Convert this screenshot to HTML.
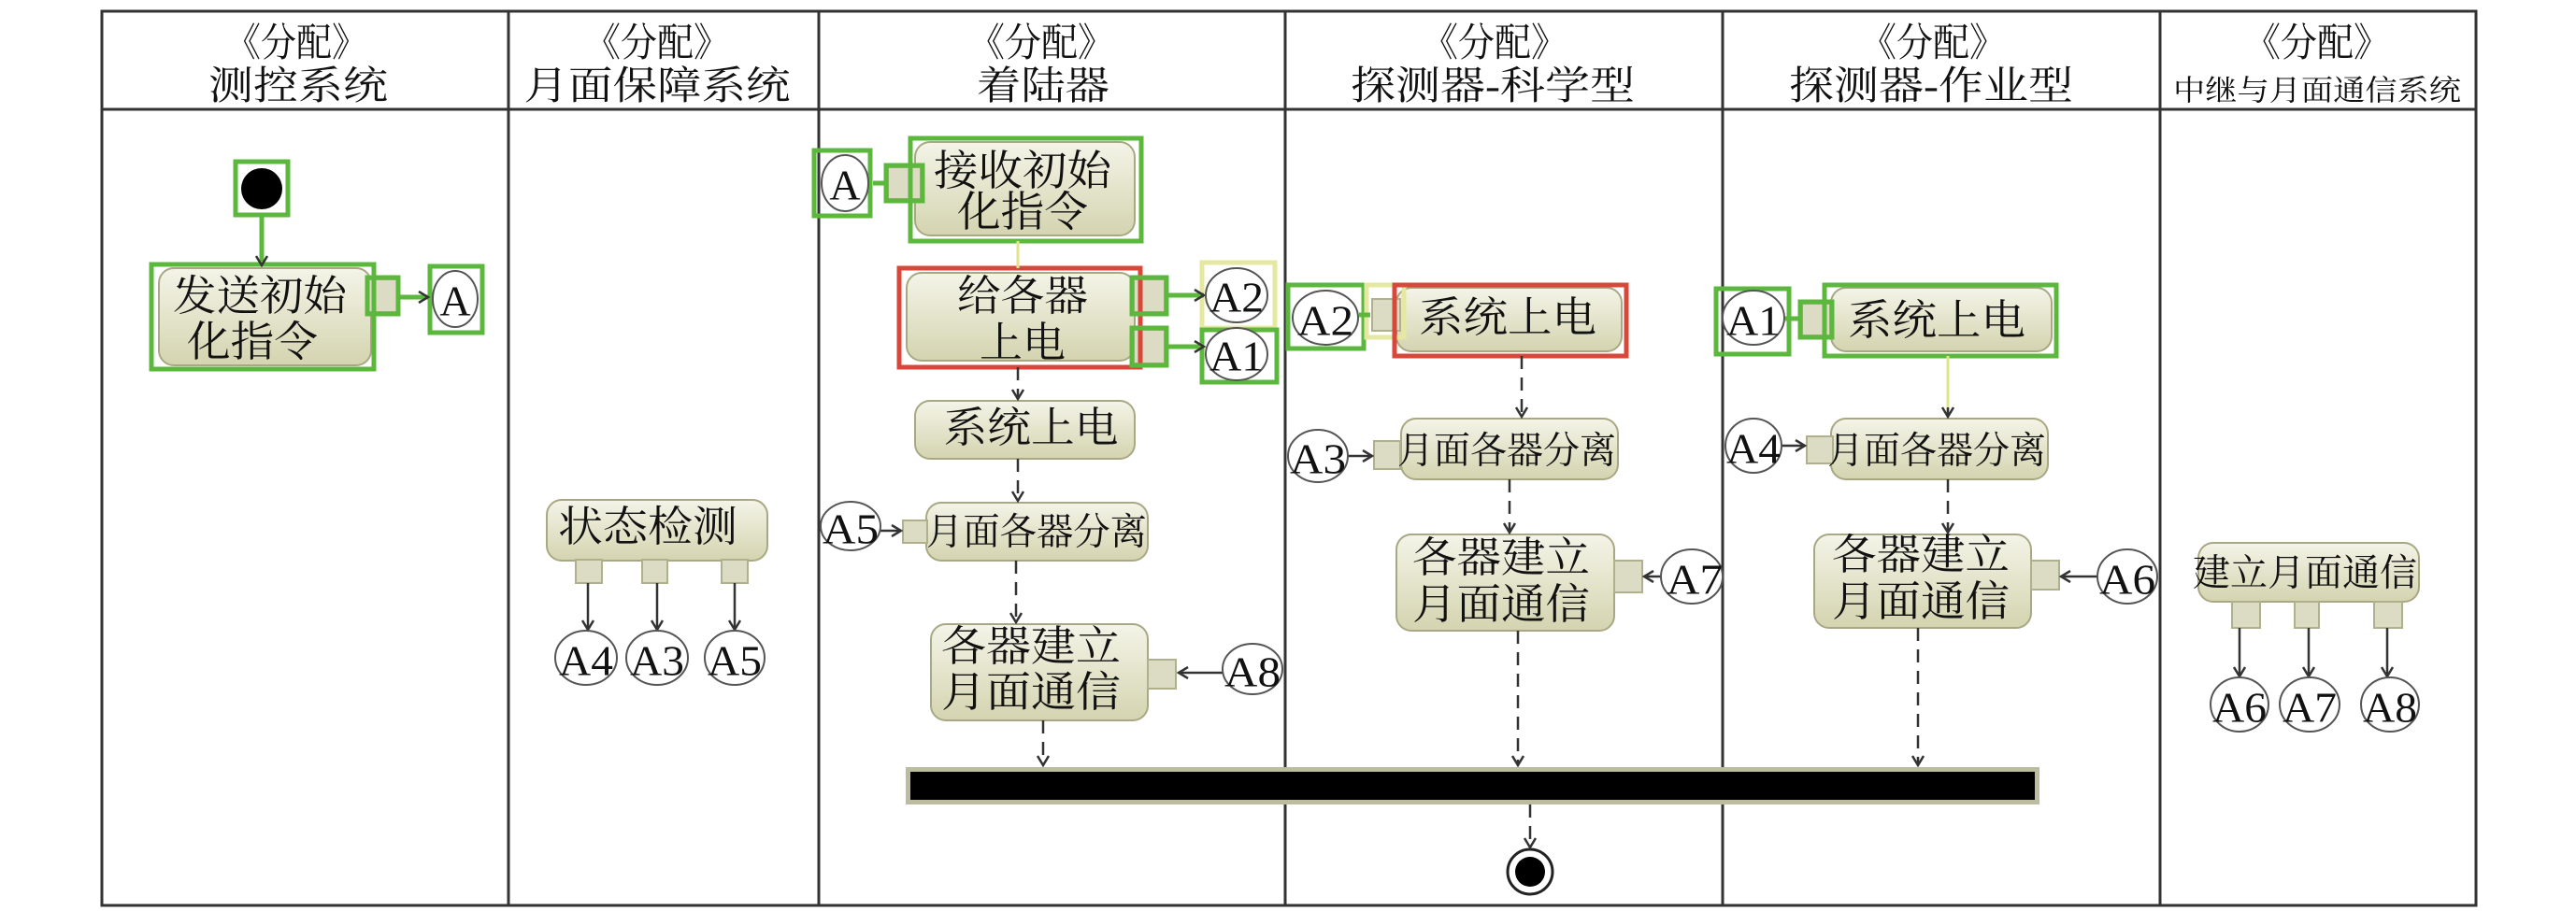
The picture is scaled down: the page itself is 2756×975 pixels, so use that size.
<!DOCTYPE html>
<html><head><meta charset="utf-8"><style>
html,body{margin:0;padding:0;background:#fff;width:2756px;height:975px;overflow:hidden}
svg{display:block}
text{font-family:"Liberation Serif","Noto Serif CJK SC","Noto Sans CJK SC",serif;fill:#111}
</style></head><body>
<svg width="2756" height="975" viewBox="0 0 2756 975" xmlns="http://www.w3.org/2000/svg">
<defs>
<linearGradient id="g" x1="0" y1="0" x2="0" y2="1">
<stop offset="0" stop-color="#f4f4e8"/><stop offset="1" stop-color="#d4d4b0"/>
</linearGradient>
<marker id="ah" markerWidth="14" markerHeight="14" refX="12" refY="7" orient="auto" markerUnits="userSpaceOnUse">
<path d="M2,1 L12,7 L2,13" fill="none" stroke="#333" stroke-width="2.5"/>
</marker>
<marker id="ahg" markerWidth="14" markerHeight="14" refX="12" refY="7" orient="auto" markerUnits="userSpaceOnUse">
<path d="M2,1 L12,7 L2,13" fill="none" stroke="#333" stroke-width="2.5"/>
</marker>
</defs>

<rect x="109" y="12" width="2540" height="957" fill="none" stroke="#333" stroke-width="3"/>
<line x1="109" y1="117" x2="2649" y2="117" stroke="#333" stroke-width="3"/>
<g stroke="#333" stroke-width="3">
<line x1="544" y1="12" x2="544" y2="969"/>
<line x1="876" y1="12" x2="876" y2="969"/>
<line x1="1375" y1="12" x2="1375" y2="969"/>
<line x1="1843" y1="12" x2="1843" y2="969"/>
<line x1="2311" y1="12" x2="2311" y2="969"/>
</g>

<g font-size="42" text-anchor="middle" dominant-baseline="central">
<text x="317" y="47" textLength="152" lengthAdjust="spacingAndGlyphs">《分配》</text>
<text x="319" y="93" textLength="192" lengthAdjust="spacingAndGlyphs">测控系统</text>
<text x="703" y="47" textLength="156" lengthAdjust="spacingAndGlyphs">《分配》</text>
<text x="703" y="93" textLength="285" lengthAdjust="spacingAndGlyphs">月面保障系统</text>
<text x="1114" y="47" textLength="156" lengthAdjust="spacingAndGlyphs">《分配》</text>
<text x="1116" y="93" textLength="142" lengthAdjust="spacingAndGlyphs">着陆器</text>
<text x="1599" y="47" textLength="156" lengthAdjust="spacingAndGlyphs">《分配》</text>
<text x="1597" y="93" textLength="304" lengthAdjust="spacingAndGlyphs">探测器-科学型</text>
<text x="2068" y="47" textLength="156" lengthAdjust="spacingAndGlyphs">《分配》</text>
<text x="2066" y="93" textLength="304" lengthAdjust="spacingAndGlyphs">探测器-作业型</text>
<text x="2479" y="47" textLength="156" lengthAdjust="spacingAndGlyphs">《分配》</text>
<text x="2479" y="97" font-size="31" textLength="308" lengthAdjust="spacingAndGlyphs">中继与月面通信系统</text>
</g>

<g fill="url(#g)" stroke="#a8a884" stroke-width="2">
<rect x="170" y="287" width="227" height="104" rx="16"/>
<rect x="979" y="152" width="235" height="100" rx="16"/>
<rect x="970" y="292" width="244" height="94" rx="16"/>
<rect x="979" y="429" width="235" height="62" rx="16"/>
<rect x="991" y="538" width="237" height="62" rx="16"/>
<rect x="996" y="668" width="232" height="103" rx="16"/>
<rect x="585" y="535" width="236" height="65" rx="16"/>
<rect x="1494" y="308" width="241" height="68" rx="16"/>
<rect x="1499" y="448" width="232" height="65" rx="16"/>
<rect x="1494" y="572" width="233" height="103" rx="16"/>
<rect x="1959" y="308" width="236" height="68" rx="16"/>
<rect x="1959" y="448" width="232" height="65" rx="16"/>
<rect x="1941" y="572" width="232" height="100" rx="16"/>
<rect x="2352" y="581" width="236" height="63" rx="16"/>
</g>

<g fill="#dcdcc4" stroke="#b0b08c" stroke-width="2">
<rect x="393" y="299" width="32" height="35"/>
<rect x="950" y="179" width="35" height="34"/>
<rect x="1213" y="299" width="33" height="35"/>
<rect x="1213" y="353" width="33" height="36"/>
<rect x="966" y="557" width="26" height="24"/>
<rect x="1228" y="706" width="30" height="31"/>
<rect x="616" y="599" width="28" height="25"/>
<rect x="687" y="599" width="27" height="25"/>
<rect x="772" y="599" width="28" height="25"/>
<rect x="1468" y="320" width="30" height="34"/>
<rect x="1470" y="472" width="28" height="30"/>
<rect x="1727" y="600" width="30" height="34"/>
<rect x="1928" y="325" width="30" height="34"/>
<rect x="1933" y="467" width="28" height="29"/>
<rect x="2173" y="600" width="30" height="31"/>
<rect x="2388" y="644" width="30" height="28"/>
<rect x="2455" y="644" width="26" height="28"/>
<rect x="2540" y="644" width="30" height="28"/>
</g>

<g fill="none" stroke-width="5">
<rect x="252" y="173" width="56" height="57" stroke="#5cb83c"/>
<rect x="162" y="283" width="238" height="112" stroke="#5cb83c"/>
<rect x="393" y="297" width="33" height="39" stroke="#5cb83c"/>
<rect x="460" y="285" width="56" height="71" stroke="#5cb83c"/>
<rect x="871" y="161" width="60" height="70" stroke="#5cb83c"/>
<rect x="948" y="177" width="39" height="38" stroke="#5cb83c"/>
<rect x="974" y="148" width="247" height="110" stroke="#5cb83c"/>
<rect x="962" y="287" width="258" height="106" stroke="#d8483a"/>
<rect x="1211" y="297" width="37" height="39" stroke="#5cb83c"/>
<rect x="1211" y="351" width="37" height="40" stroke="#5cb83c"/>
<rect x="1286" y="281" width="78" height="70" stroke="#e4e8a0"/>
<rect x="1286" y="353" width="80" height="56" stroke="#5cb83c"/>
<rect x="1378" y="305" width="81" height="68" stroke="#5cb83c"/>
<rect x="1462" y="305" width="40" height="56" stroke="#e4e8a0"/>
<rect x="1492" y="305" width="248" height="76" stroke="#d8483a"/>
<rect x="1836" y="309" width="78" height="70" stroke="#5cb83c"/>
<rect x="1926" y="323" width="34" height="38" stroke="#5cb83c"/>
<rect x="1952" y="305" width="248" height="76" stroke="#5cb83c"/>
</g>

<circle cx="280" cy="202" r="22" fill="#000"/>
<circle cx="1637" cy="933" r="24" fill="#fff" stroke="#222" stroke-width="3"/>
<circle cx="1637" cy="933" r="16" fill="#000"/>

<rect x="969" y="821" width="1213" height="40" fill="#bcbca0"/>
<rect x="974" y="826" width="1203" height="30" fill="#000"/>

<g stroke="#5cb83c" stroke-width="5" fill="none">
<line x1="280" y1="230" x2="280" y2="284" marker-end="url(#ahg)"/>
<line x1="426" y1="318" x2="458" y2="318" marker-end="url(#ahg)"/>
<line x1="934" y1="196" x2="948" y2="196"/>
<line x1="1248" y1="316" x2="1288" y2="316" marker-end="url(#ahg)"/>
<line x1="1248" y1="371" x2="1288" y2="371" marker-end="url(#ahg)"/>
<line x1="1454" y1="337" x2="1466" y2="337"/>
<line x1="1910" y1="341" x2="1926" y2="341"/>
</g>
<g stroke="#e0e48c" stroke-width="3">
<line x1="1089" y1="258" x2="1089" y2="287"/>
<line x1="2084" y1="381" x2="2084" y2="446"/>
</g>
<g stroke="#333" stroke-width="2.5" fill="none">
<line x1="629" y1="624" x2="629" y2="674" marker-end="url(#ah)"/>
<line x1="703" y1="624" x2="703" y2="674" marker-end="url(#ah)"/>
<line x1="786" y1="624" x2="786" y2="674" marker-end="url(#ah)"/>
<line x1="2396" y1="672" x2="2396" y2="724" marker-end="url(#ah)"/>
<line x1="2470" y1="672" x2="2470" y2="724" marker-end="url(#ah)"/>
<line x1="2554" y1="672" x2="2554" y2="724" marker-end="url(#ah)"/>
<line x1="942" y1="568" x2="964" y2="568" marker-end="url(#ah)"/>
<line x1="1308" y1="720" x2="1261" y2="720" marker-end="url(#ah)"/>
<line x1="1441" y1="488" x2="1468" y2="488" marker-end="url(#ah)"/>
<line x1="1777" y1="617" x2="1759" y2="617" marker-end="url(#ah)"/>
<line x1="1905" y1="477" x2="1931" y2="477" marker-end="url(#ah)"/>
<line x1="2244" y1="617" x2="2205" y2="617" marker-end="url(#ah)"/>
<line x1="2084" y1="436" x2="2084" y2="446" marker-end="url(#ah)"/>
</g>
<g stroke="#333" stroke-width="2.5" fill="none" stroke-dasharray="14 9">
<line x1="1089" y1="393" x2="1089" y2="427" marker-end="url(#ah)"/>
<line x1="1089" y1="491" x2="1089" y2="536" marker-end="url(#ah)"/>
<line x1="1087" y1="600" x2="1087" y2="666" marker-end="url(#ah)"/>
<line x1="1116" y1="771" x2="1116" y2="819" marker-end="url(#ah)"/>
<line x1="1628" y1="381" x2="1628" y2="446" marker-end="url(#ah)"/>
<line x1="1615" y1="513" x2="1615" y2="570" marker-end="url(#ah)"/>
<line x1="1624" y1="675" x2="1624" y2="819" marker-end="url(#ah)"/>
<line x1="1637" y1="861" x2="1637" y2="907" marker-end="url(#ah)"/>
<line x1="2084" y1="513" x2="2084" y2="570" marker-end="url(#ah)"/>
<line x1="2052" y1="672" x2="2052" y2="819" marker-end="url(#ah)"/>
</g>

<g fill="#fff" stroke="#555" stroke-width="2">
<ellipse cx="487" cy="320" rx="24" ry="30"/>
<ellipse cx="904" cy="196" rx="25" ry="30"/>
<ellipse cx="1323" cy="316" rx="33" ry="29"/>
<ellipse cx="1323" cy="379" rx="33" ry="28"/>
<ellipse cx="910" cy="563" rx="32" ry="26"/>
<ellipse cx="1340" cy="716" rx="32" ry="27"/>
<ellipse cx="627" cy="704" rx="33" ry="29"/>
<ellipse cx="703" cy="704" rx="33" ry="29"/>
<ellipse cx="786" cy="704" rx="32" ry="29"/>
<ellipse cx="1418" cy="340" rx="35" ry="29"/>
<ellipse cx="1410" cy="488" rx="32" ry="28"/>
<ellipse cx="1810" cy="617" rx="33" ry="29"/>
<ellipse cx="1876" cy="340" rx="33" ry="29"/>
<ellipse cx="1876" cy="477" rx="30" ry="29"/>
<ellipse cx="2276" cy="617" rx="32" ry="29"/>
<ellipse cx="2396" cy="754" rx="31" ry="29"/>
<ellipse cx="2471" cy="754" rx="32" ry="29"/>
<ellipse cx="2557" cy="754" rx="31" ry="29"/>
</g>
<g font-size="46" text-anchor="middle" dominant-baseline="central">
<text x="487" y="322">A</text>
<text x="904" y="198">A</text>
<text x="1323" y="318" textLength="58" lengthAdjust="spacingAndGlyphs">A2</text>
<text x="1323" y="381" textLength="58" lengthAdjust="spacingAndGlyphs">A1</text>
<text x="910" y="566" textLength="60" lengthAdjust="spacingAndGlyphs">A5</text>
<text x="1340" y="719" textLength="60" lengthAdjust="spacingAndGlyphs">A8</text>
<text x="627" y="707" textLength="58" lengthAdjust="spacingAndGlyphs">A4</text>
<text x="703" y="707" textLength="58" lengthAdjust="spacingAndGlyphs">A3</text>
<text x="786" y="707" textLength="58" lengthAdjust="spacingAndGlyphs">A5</text>
<text x="1418" y="343" textLength="60" lengthAdjust="spacingAndGlyphs">A2</text>
<text x="1410" y="491" textLength="60" lengthAdjust="spacingAndGlyphs">A3</text>
<text x="1813" y="620" textLength="60" lengthAdjust="spacingAndGlyphs">A7</text>
<text x="1876" y="343" textLength="58" lengthAdjust="spacingAndGlyphs">A1</text>
<text x="1876" y="480" textLength="58" lengthAdjust="spacingAndGlyphs">A4</text>
<text x="2276" y="620" textLength="60" lengthAdjust="spacingAndGlyphs">A6</text>
<text x="2396" y="757" textLength="58" lengthAdjust="spacingAndGlyphs">A6</text>
<text x="2471" y="757" textLength="58" lengthAdjust="spacingAndGlyphs">A7</text>
<text x="2557" y="757" textLength="58" lengthAdjust="spacingAndGlyphs">A8</text>
</g>

<g font-size="45" text-anchor="middle" dominant-baseline="central">
<text x="278" y="317" textLength="186" lengthAdjust="spacingAndGlyphs">发送初始</text>
<text x="270" y="366" textLength="140" lengthAdjust="spacingAndGlyphs">化指令</text>
<text x="1094" y="183" textLength="190" lengthAdjust="spacingAndGlyphs">接收初始</text>
<text x="1094" y="227" textLength="140" lengthAdjust="spacingAndGlyphs">化指令</text>
<text x="1094" y="317" textLength="140" lengthAdjust="spacingAndGlyphs">给各器</text>
<text x="1094" y="367" textLength="92" lengthAdjust="spacingAndGlyphs">上电</text>
<text x="1103" y="458" textLength="187" lengthAdjust="spacingAndGlyphs">系统上电</text>
<text x="1109" y="569" textLength="236" lengthAdjust="spacingAndGlyphs" font-size="40">月面各器分离</text>
<text x="1103" y="692" textLength="192" lengthAdjust="spacingAndGlyphs">各器建立</text>
<text x="1103" y="741" textLength="192" lengthAdjust="spacingAndGlyphs">月面通信</text>
<text x="693" y="564" textLength="192" lengthAdjust="spacingAndGlyphs">状态检测</text>
<text x="1613" y="340" textLength="190" lengthAdjust="spacingAndGlyphs">系统上电</text>
<text x="1612" y="482" textLength="234" lengthAdjust="spacingAndGlyphs" font-size="40">月面各器分离</text>
<text x="1606" y="597" textLength="190" lengthAdjust="spacingAndGlyphs">各器建立</text>
<text x="1606" y="647" textLength="190" lengthAdjust="spacingAndGlyphs">月面通信</text>
<text x="2072" y="343" textLength="190" lengthAdjust="spacingAndGlyphs">系统上电</text>
<text x="2072" y="482" textLength="234" lengthAdjust="spacingAndGlyphs" font-size="40">月面各器分离</text>
<text x="2055" y="594" textLength="190" lengthAdjust="spacingAndGlyphs">各器建立</text>
<text x="2055" y="644" textLength="190" lengthAdjust="spacingAndGlyphs">月面通信</text>
<text x="2466" y="613" textLength="240" lengthAdjust="spacingAndGlyphs" font-size="40">建立月面通信</text>
</g>
</svg>
</body></html>
